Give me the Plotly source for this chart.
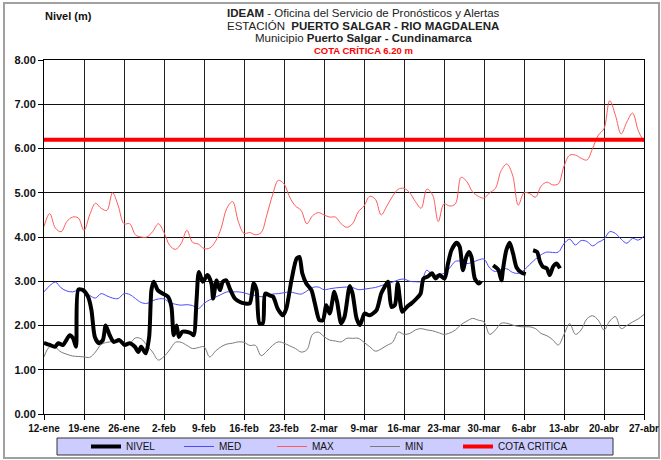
import plotly.graph_objects as go

# etiquetas del eje x (cada 7 dias desde 12-ene)
etiquetas = ["12-ene", "19-ene", "26-ene", "2-feb", "9-feb", "16-feb", "23-feb", "2-mar",
             "9-mar", "16-mar", "23-mar", "30-mar", "6-abr", "13-abr", "20-abr", "27-abr"]
dias_ticks = [0, 7, 14, 21, 28, 35, 42, 49, 56, 63, 70, 77, 84, 91, 98, 105]

# dias 0..105 (12-ene a 27-abr)
dias = list(range(106))

nivel_max = [4.24, 4.53, 4.2, 4.12, 4.35, 4.45, 4.43, 4.15, 4.5, 4.76, 4.65, 4.6, 5.0, 4.7, 4.3,
             4.3, 4.05, 4.0, 4.0, 4.12, 4.3, 4.1, 3.81, 3.72, 3.85, 4.15, 3.88, 3.84, 3.74,
             3.75, 3.9, 4.2, 4.65, 4.8, 4.35, 4.08, 4.1, 4.05, 4.1, 4.5, 4.95, 5.28, 5.2, 4.9,
             4.7, 4.6, 4.3, 4.48, 4.55, 4.5, 4.45, 4.45, 4.3, 4.22, 4.3, 4.57,
             4.7, 4.92, 4.85, 4.5, 4.7, 4.92, 5.08, 5.1, 5.0, 4.8, 4.65, 5.08, 4.95, 4.35,
             4.75, 4.7, 4.75, 5.35, 5.25, 5.02, 4.92, 4.88, 5.0, 5.1, 5.5, 5.65, 5.4,
             4.72, 5.0, 4.98, 4.9, 5.15, 5.24, 5.18, 5.2, 5.6, 5.85, 5.85, 5.78, 5.74,
             6.0, 6.3, 6.45, 7.08, 6.75, 6.33, 6.6, 6.8, 6.4, 6.15]

nivel_med = [2.76, 2.9, 2.98, 2.85, 2.78, 2.76, 2.8, 2.77, 2.68, 2.62, 2.72, 2.67, 2.62, 2.61,
             2.72, 2.7, 2.61, 2.52, 2.5, 2.56, 2.6, 2.6, 2.52, 2.48, 2.46, 2.47, 2.45, 2.38, 2.5,
             2.58, 2.64, 2.7, 2.76, 2.76, 2.76, 2.74, 2.7, 2.68, 2.65, 2.67, 2.71, 2.72, 2.74,
             2.76, 2.73, 2.71, 2.78, 2.86, 2.87, 2.81, 2.83, 2.85, 2.86, 2.87, 2.86, 2.81,
             2.82, 2.84, 2.86, 2.9, 2.94, 2.98, 3.03, 3.05, 3.0, 2.99, 3.0, 3.25, 3.14, 3.15,
             3.18, 3.3, 3.45, 3.45, 3.4, 3.43, 3.48, 3.5, 3.3, 3.22, 3.27, 3.28, 3.2,
             3.18, 3.25, 3.38, 3.5, 3.6, 3.66, 3.65, 3.66, 3.85, 3.95, 3.82, 3.92, 3.9,
             3.8, 3.88, 3.95, 4.12, 4.08, 3.95, 3.86, 3.97, 3.93, 4.02]

nivel_min = [1.29, 1.52, 1.5, 1.4, 1.35, 1.31, 1.3, 1.29, 1.28, 1.4, 1.57, 1.62, 1.64, 1.7,
             1.62, 1.6, 1.72, 1.7, 1.55, 1.4, 1.22, 1.3, 1.45, 1.62, 1.62, 1.55, 1.48, 1.5, 1.52,
             1.29, 1.42, 1.52, 1.58, 1.6, 1.63, 1.62, 1.55, 1.55, 1.32, 1.42, 1.55, 1.63, 1.6,
             1.54, 1.48, 1.4, 1.45, 1.8, 1.85, 1.75, 1.67, 1.65, 1.63, 1.71, 1.71, 1.71,
             1.62, 1.52, 1.42, 1.47, 1.55, 1.62, 1.85, 1.8, 1.82, 1.9, 1.93, 1.9, 1.88, 1.84,
             1.8, 1.83, 1.9, 2.02, 2.1, 2.16, 2.12, 2.08, 1.8, 1.9, 2.05, 2.05, 2.01,
             1.98, 1.97, 1.97, 1.93, 1.82, 1.77, 1.68, 1.56, 1.8, 2.04, 1.8, 1.9, 2.15,
             2.22, 2.12, 1.9, 2.1, 2.2, 1.93, 2.0, 2.08, 2.15, 2.25]

# lecturas del nivel (dia desde 12-ene, valor); None = sin dato
nivel_dia = [0, 1, 1.9, 2.5, 3.3, 4.5, 5.1, 5.6, 6.0, 6.8, 7.7, 8.3, 8.9, 9.6, 10.3, 10.8, 11.5,
             12.2, 13.2, 14.1, 15.0, 15.9, 16.5, 17.0, 17.8, 18.4, 18.8, 19.2, 19.9, 20.8, 21.7,
             22.3, 22.7, 23.2, 23.6, 24.2, 24.9, 25.8, 26.2, 26.7, 27.1, 27.8, 28.6, 29.3, 29.6,
             30.2, 30.8, 31.3, 31.9, 32.5, 33.4, 34.3, 35.1, 36.0, 36.7, 37.2, 37.7, 38.3, 38.7,
             39.5, 40.1, 40.9, 41.8, 42.4, 43.3, 44.2, 44.7, 45.2, 45.9, 46.8, 47.4, 48.2, 48.8,
             49.4, 50.0, 50.8, 51.3, 52.0, 52.6, 53.5, 54.0, 54.7, 55.3, 56.1, 57.0, 58.2, 59.0,
             59.6, 60.2, 60.8, 61.4, 61.9, 62.7, 63.5, 64.3, 65.2, 65.9, 66.4, 67.2, 67.9, 68.5,
             69.2, 70.1, 70.7, 71.3, 72.2, 72.75, 73.3, 73.9, 74.4, 74.8, 75.4, 76.1, 76.5,
             77.5,
             78.6, 79.5, 80.05, 80.3, 80.9, 81.5, 82.1, 82.7, 83.5, 84.3,
             85.0,
             85.6, 86.3, 86.8, 87.3, 88.0, 88.5, 89.1, 89.7, 90.3]
nivel = [1.61, 1.56, 1.52, 1.6, 1.56, 1.78, 1.71, 1.52, 2.81, 2.8, 2.65, 2.35, 1.74, 1.6, 1.67,
         2.0, 1.78, 1.63, 1.67, 1.56, 1.6, 1.52, 1.40, 1.52, 1.37, 1.74, 2.8, 2.99, 2.8, 2.72,
         2.65, 2.42, 1.78, 2.0, 1.74, 1.86, 1.86, 1.82, 1.78, 2.58, 3.21, 2.99, 3.14, 2.95, 2.61,
         3.02, 2.8, 2.99, 3.02, 2.84, 2.61, 2.53, 2.5, 2.5, 2.95, 2.8, 2.05, 2.05, 2.72,
         2.68, 2.65, 2.38, 2.23, 2.38, 3.02, 3.51, 3.55, 3.18, 2.95, 2.8, 2.5, 2.12, 2.12,
         2.46, 2.27, 2.76, 2.53, 2.05, 2.2, 2.89, 2.72, 2.16, 2.01, 2.27, 2.23, 2.35, 2.72,
         2.87, 2.99, 2.42, 2.46, 2.95, 2.31, 2.42, 2.5, 2.61, 2.72, 3.06, 3.11, 3.18, 3.06,
         3.14, 3.06, 3.40, 3.7, 3.87, 3.78, 3.25, 3.55, 3.66, 3.55, 3.06, 2.95, 3.0,
         None,
         3.36, 3.26, 3.02, 3.25, 3.7, 3.87, 3.62, 3.31, 3.2, 3.16,
         None,
         3.7, 3.66, 3.44, 3.33, 3.29, 3.14, 3.33, 3.4, 3.29]

cota_critica = 6.20
cota_dias = [0, 105]

fig = go.Figure()

# orden de dibujo: MIN, MAX, MED, COTA, NIVEL encima; orden de leyenda con legendrank
fig.add_trace(go.Scatter(x=dias, y=nivel_min, name="MIN", mode="lines", legendrank=4,
                         line=dict(color="#7a7a7a", width=1, shape="spline", smoothing=1)))
fig.add_trace(go.Scatter(x=dias, y=nivel_max, name="MAX", mode="lines", legendrank=3,
                         line=dict(color="#ff5a5a", width=1, shape="spline", smoothing=1)))
fig.add_trace(go.Scatter(x=dias, y=nivel_med, name="MED", mode="lines", legendrank=2,
                         line=dict(color="#4a4aff", width=1, shape="spline", smoothing=1)))
fig.add_trace(go.Scatter(x=[cota_dias[0], cota_dias[1]], y=[cota_critica, cota_critica],
                         name="COTA CRITICA", mode="lines", legendrank=5, legendwidth=80,
                         line=dict(color="#ff0000", width=4)))
fig.add_trace(go.Scatter(x=nivel_dia, y=nivel, name="NIVEL", mode="lines", legendrank=1,
                         connectgaps=False,
                         line=dict(color="#000000", width=4, shape="spline", smoothing=0.7)))

fuente = "Liberation Sans Narrow, Arial Narrow, Liberation Sans, Arial, sans-serif"

# titulos
titulos = [
    ("<b>IDEAM</b> - Oficina del Servicio de Pronósticos y Alertas", 13, "#222222", 11.5),
    ("ESTACIÓN  <b>PUERTO SALGAR - RIO MAGDALENA</b>", 25.5, "#222222", 11.5),
    ("Municipio <b>Puerto Salgar - Cundinamarca</b>", 38, "#222222", 11.5),
    ("<b>COTA CRÍTICA 6.20 m</b>", 50.5, "#ff0000", 9.5),
]
for texto, py, color, tam in titulos:
    fig.add_annotation(text=texto, xref="paper", yref="paper",
                       x=(363 - 44) / 600, y=(414 - py) / 354,
                       xanchor="center", yanchor="middle", showarrow=False,
                       font=dict(family=fuente, size=tam, color=color))

fig.add_annotation(text="<b>Nivel (m)</b>", xref="paper", yref="paper",
                   x=(43 - 44) / 600, y=(414 - 16) / 354, xanchor="left", yanchor="middle",
                   showarrow=False, font=dict(family="Liberation Sans, Arial", size=11, color="#111"))

# marco exterior y caja de leyenda
fig.add_shape(type="rect", xref="paper", yref="paper",
              x0=(4 - 44) / 600, x1=(659 - 44) / 600, y0=(414 - 458) / 354, y1=(414 - 3) / 354,
              line=dict(color="#a0a0a0", width=2), layer="below")
fig.add_shape(type="rect", xref="paper", yref="paper",
              x0=(57 - 44) / 600, x1=(613 - 44) / 600, y0=(414 - 455) / 354, y1=(414 - 438) / 354,
              fillcolor="#ccccff", line=dict(color="#333333", width=1), layer="below")

fig.update_layout(
    width=661, height=460,
    margin=dict(l=44, r=17, t=60, b=46, autoexpand=False),
    paper_bgcolor="white", plot_bgcolor="white",
    font=dict(family="Liberation Sans, Arial, sans-serif", color="#111"),
    legend=dict(orientation="h", xref="container", yref="container",
                x=86 / 661, y=1 - 446.5 / 460,
                xanchor="left", yanchor="middle",
                bgcolor="rgba(0,0,0,0)", borderwidth=0,
                entrywidth=48,
                font=dict(family="Liberation Sans, Arial", size=10, color="#111")),
)
fig.update_xaxes(range=[0, 105], tickmode="array", tickvals=dias_ticks, ticktext=etiquetas,
                 showgrid=True, gridcolor="#222222", gridwidth=1, automargin=False,
                 showline=True, linecolor="#000", linewidth=1, mirror=True,
                 ticks="outside", ticklen=5, tickcolor="#000", zeroline=False,
                 tickfont=dict(family="Liberation Sans, Arial", size=10, weight="bold", color="#111"))
fig.update_yaxes(range=[0, 8], dtick=1, tickformat=".2f",
                 showgrid=True, gridcolor="#111111", gridwidth=1, automargin=False,
                 showline=True, linecolor="#000", linewidth=1, mirror=True,
                 ticks="outside", ticklen=5, tickcolor="#000", zeroline=False,
                 tickfont=dict(family="Liberation Sans, Arial", size=11, weight="bold", color="#111"))

fig.write_html("out.html", config={"displayModeBar": False},
               post_script="document.body.style.margin='0';")
